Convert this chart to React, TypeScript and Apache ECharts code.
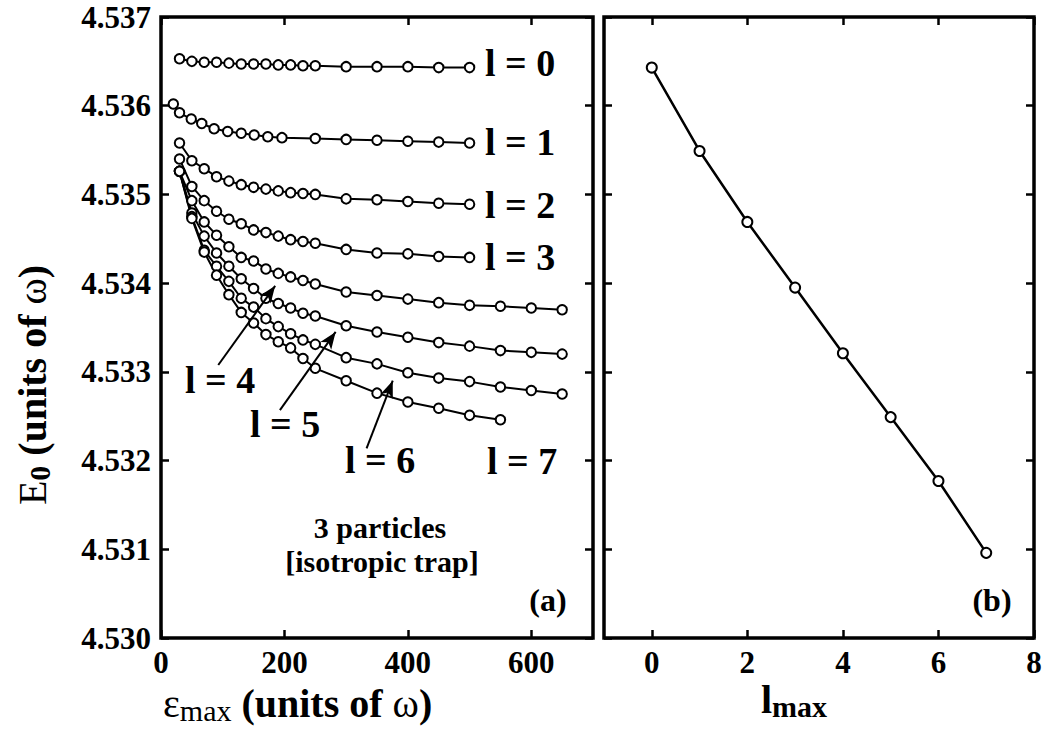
import { useEffect, useRef } from "react";
import * as echarts from "echarts";

const FONT = "Liberation Serif, Times New Roman, serif";

// Panel (a): ground-state energy vs energy cutoff, one curve per l truncation
const epsL0 = [30, 50, 70, 90, 110, 130, 150, 170, 190, 210, 230, 250, 300, 350, 400, 450, 500];
const epsL1 = [20, 30, 49, 66, 86, 108, 130, 151, 173, 196, 250, 300, 350, 400, 450, 500];
const epsL2 = [30, 50, 70, 90, 110, 130, 150, 170, 190, 210, 230, 250, 300, 350, 400, 450, 500];
const epsL3 = [30, 50, 70, 90, 110, 130, 150, 170, 190, 210, 230, 250, 300, 350, 400, 450, 500];
const epsL4 = [30, 50, 70, 90, 110, 130, 150, 170, 190, 210, 230, 250, 300, 350, 400, 450, 500, 550, 600, 650];
const epsL5 = [30, 50, 70, 90, 110, 130, 150, 170, 190, 210, 230, 250, 300, 350, 400, 450, 500, 550, 600, 650];
const epsL6 = [30, 50, 70, 90, 110, 130, 150, 170, 190, 210, 230, 250, 300, 350, 400, 450, 500, 550, 600, 650];
const epsL7 = [30, 50, 70, 90, 110, 130, 150, 170, 190, 210, 230, 250, 300, 350, 400, 450, 500, 550];

const energyL0 = [4.53653, 4.5365, 4.53649, 4.53649, 4.53648, 4.53647, 4.53647, 4.53647, 4.53646, 4.53646, 4.53645, 4.53645, 4.53644, 4.53644, 4.53644, 4.53643, 4.53643];
const energyL1 = [4.53602, 4.53592, 4.53585, 4.5358, 4.53574, 4.53571, 4.53569, 4.53567, 4.53565, 4.53564, 4.53563, 4.53562, 4.53561, 4.5356, 4.53559, 4.53558];
const energyL2 = [4.53558, 4.53538, 4.53529, 4.5352, 4.53515, 4.53511, 4.53508, 4.53506, 4.53504, 4.53502, 4.53501, 4.535, 4.53495, 4.53494, 4.53492, 4.5349, 4.53489];
const energyL3 = [4.5354, 4.53509, 4.53493, 4.53481, 4.53472, 4.53467, 4.5346, 4.53457, 4.53453, 4.53449, 4.53447, 4.53445, 4.53438, 4.53434, 4.53433, 4.5343, 4.53429];
const energyL4 = [4.53526, 4.53493, 4.53469, 4.53454, 4.53441, 4.53429, 4.53425, 4.53416, 4.53411, 4.53407, 4.53403, 4.53399, 4.5339, 4.53386, 4.53382, 4.53378, 4.53375, 4.53374, 4.53372, 4.5337];
const energyL5 = [4.53526, 4.53479, 4.53453, 4.53434, 4.53419, 4.53405, 4.53394, 4.53383, 4.53377, 4.53372, 4.53366, 4.53363, 4.53352, 4.53345, 4.53339, 4.53333, 4.53329, 4.53324, 4.53322, 4.5332];
const energyL6 = [4.53526, 4.53475, 4.53437, 4.53419, 4.53402, 4.53383, 4.53373, 4.5336, 4.53351, 4.53343, 4.53336, 4.53331, 4.53316, 4.53309, 4.53299, 4.53293, 4.53289, 4.53283, 4.53279, 4.53275];
const energyL7 = [4.53526, 4.53473, 4.53435, 4.53409, 4.53387, 4.53367, 4.53355, 4.53342, 4.53334, 4.53327, 4.53315, 4.53304, 4.5329, 4.53276, 4.53266, 4.53259, 4.53251, 4.53246];

const curveLabels = ["l = 0", "l = 1", "l = 2", "l = 3", "l = 4", "l = 5", "l = 6", "l = 7"];

// Arrows pointing from the l = 4, 5, 6 labels to their curves (data units)
const arrowTails = [[92.8, 4.533077], [192.7, 4.532569], [333.1, 4.532137]];
const arrowTips = [[185, 4.53397], [283, 4.53345], [375.5, 4.5329]];

// Panel (b): converged energy vs l_max
const lmax = [0, 1, 2, 3, 4, 5, 6, 7];
const energyLmax = [4.53643, 4.53549, 4.53469, 4.53395, 4.53321, 4.53249, 4.53177, 4.53096];

// Tick values
const yTicks = [4.53, 4.531, 4.532, 4.533, 4.534, 4.535, 4.536, 4.537];
const epsTicks = [0, 200, 400, 600];
const lTicks = [0, 2, 4, 6, 8];

const curves = [
  { eps: epsL0, e: energyL0 },
  { eps: epsL1, e: energyL1 },
  { eps: epsL2, e: energyL2 },
  { eps: epsL3, e: energyL3 },
  { eps: epsL4, e: energyL4 },
  { eps: epsL5, e: energyL5 },
  { eps: epsL6, e: energyL6 },
  { eps: epsL7, e: energyL7 },
];

// Label anchor points (left edge, vertical middle) for each curve label
const labelPos = [
  [485, 63], [485, 142], [485, 205], [485, 257],
  [185, 380], [250, 424], [345, 460], [487, 461],
];

const tickStyle = { inside: true, length: 8, lineStyle: { color: "#000", width: 2.5 } };
const labelFont = { fontFamily: FONT, fontWeight: "bold" as const, fontSize: 31, color: "#000" };
const noLine = { show: false, onZero: false };

function buildOption() {
  const leftSeries = curves.map((c, i) => ({
    type: "line",
    name: curveLabels[i],
    xAxisIndex: 0,
    yAxisIndex: 0,
    data: c.eps.map((x, j) => [x, c.e[j]]),
    symbol: "emptyCircle",
    symbolSize: 9.5,
    lineStyle: { color: "#000", width: 2 },
    itemStyle: { color: "#000", borderColor: "#000", borderWidth: 2.4 },
    emphasis: { disabled: true },
    z: 3,
    ...(i === 4
      ? {
          markLine: {
            silent: true,
            symbol: ["none", "arrow"],
            symbolSize: [10, 17],
            lineStyle: { color: "#000", width: 2, type: "solid" },
            label: { show: false },
            emphasis: { disabled: true },
            data: arrowTails.map((t, k) => [{ coord: t }, { coord: arrowTips[k] }]),
          },
        }
      : {}),
  }));

  const rightSeries = {
    type: "line",
    name: "lmax",
    xAxisIndex: 2,
    yAxisIndex: 2,
    data: lmax.map((l, j) => [l, energyLmax[j]]),
    symbol: "emptyCircle",
    symbolSize: 10,
    lineStyle: { color: "#000", width: 2.5 },
    itemStyle: { color: "#000", borderColor: "#000", borderWidth: 2.7 },
    emphasis: { disabled: true },
    z: 3,
  };

  const textEl = (text: string, x: number, y: number, size: number, align = "left") => ({
    type: "text",
    x,
    y,
    style: {
      text,
      fill: "#000",
      fontFamily: FONT,
      fontWeight: "bold",
      fontSize: size,
      align,
      verticalAlign: "middle",
    },
  });

  const titleRich = {
    r: { fontFamily: FONT, fontSize: 40, fontWeight: "normal", lineHeight: 44, color: "#000" },
    b: { fontFamily: FONT, fontSize: 40, fontWeight: "bold", lineHeight: 44, color: "#000" },
    sub: { fontFamily: FONT, fontSize: 30, fontWeight: "normal", lineHeight: 28, verticalAlign: "bottom", color: "#000" },
    subb: { fontFamily: FONT, fontSize: 30, fontWeight: "bold", lineHeight: 28, verticalAlign: "bottom", color: "#000" },
  };

  const graphics = [
    ...curveLabels.map((t, i) => textEl(t, labelPos[i][0], labelPos[i][1], 38)),
    textEl("3 particles", 380, 527, 30, "center"),
    textEl("[isotropic trap]", 382, 561, 30, "center"),
    textEl("(a)", 548, 600, 32, "center"),
    textEl("(b)", 992, 600, 32, "center"),
    {
      type: "text",
      x: 163,
      y: 703,
      style: {
        text: "{r|ε}{sub|max}{b| (units of }{r|ω}{b|)}",
        rich: titleRich,
        align: "left",
        verticalAlign: "middle",
      },
    },
    {
      type: "text",
      x: 794,
      y: 699,
      style: {
        text: "{b|l}{subb|max}",
        rich: titleRich,
        align: "center",
        verticalAlign: "middle",
      },
    },
    {
      type: "text",
      x: 32,
      y: 385,
      rotation: Math.PI / 2,
      style: {
        text: "{r|E}{subb|0}{b| (units of }{r|ω}{b|)}",
        rich: titleRich,
        align: "center",
        verticalAlign: "middle",
      },
    },
  ];

  const yBase = { type: "value", min: 4.53, max: 4.537, axisLine: noLine, splitLine: { show: false } };
  const hidden = (values: number[]) => ({ show: false, customValues: values });

  return {
    animation: false,
    backgroundColor: "#fff",
    grid: [
      { left: 161, top: 17, width: 432, height: 621, show: true, borderColor: "#000", borderWidth: 3.5, backgroundColor: "transparent" },
      { left: 604, top: 17, width: 430, height: 621, show: true, borderColor: "#000", borderWidth: 3.5, backgroundColor: "transparent" },
    ],
    xAxis: [
      {
        type: "value", gridIndex: 0, position: "bottom", min: 0, max: 700,
        axisLine: noLine, splitLine: { show: false },
        axisTick: { ...tickStyle, customValues: epsTicks },
        axisLabel: { ...labelFont, margin: 9, customValues: epsTicks },
      },
      {
        type: "value", gridIndex: 0, position: "top", min: 0, max: 700,
        axisLine: noLine, splitLine: { show: false },
        axisTick: { ...tickStyle, customValues: epsTicks },
        axisLabel: hidden(epsTicks),
      },
      {
        type: "value", gridIndex: 1, position: "bottom", min: -1, max: 8,
        axisLine: noLine, splitLine: { show: false },
        axisTick: { ...tickStyle, customValues: lTicks },
        axisLabel: { ...labelFont, margin: 9, customValues: lTicks },
      },
      {
        type: "value", gridIndex: 1, position: "top", min: -1, max: 8,
        axisLine: noLine, splitLine: { show: false },
        axisTick: { ...tickStyle, customValues: lTicks },
        axisLabel: hidden(lTicks),
      },
    ],
    yAxis: [
      {
        ...yBase, gridIndex: 0, position: "left",
        axisTick: { ...tickStyle, customValues: yTicks },
        axisLabel: { ...labelFont, margin: 10, customValues: yTicks, formatter: (v: number) => v.toFixed(3) },
      },
      {
        ...yBase, gridIndex: 0, position: "right",
        axisTick: { ...tickStyle, customValues: yTicks },
        axisLabel: hidden(yTicks),
      },
      {
        ...yBase, gridIndex: 1, position: "left",
        axisTick: { ...tickStyle, customValues: yTicks },
        axisLabel: hidden(yTicks),
      },
      {
        ...yBase, gridIndex: 1, position: "right",
        axisTick: { ...tickStyle, customValues: yTicks },
        axisLabel: hidden(yTicks),
      },
    ],
    series: [...leftSeries, rightSeries],
    graphic: graphics,
  };
}

export default function App() {
  const ref = useRef<HTMLDivElement>(null);
  useEffect(() => {
    const chart = echarts.init(ref.current!, null, { renderer: "svg" });
    chart.setOption(buildOption() as any);
    return () => chart.dispose();
  }, []);
  return (
    <div
      ref={ref}
      style={{ position: "fixed", left: 0, top: 0, width: 1048, height: 731, background: "#fff" }}
    />
  );
}
